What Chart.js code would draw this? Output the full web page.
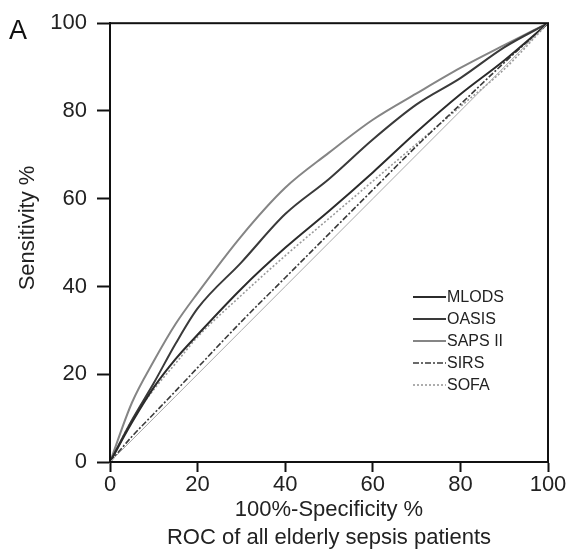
<!DOCTYPE html>
<html>
<head>
<meta charset="utf-8">
<script src="https://cdn.jsdelivr.net/npm/chart.js@4/dist/chart.umd.min.js"></script>
<style>
  html, body { margin: 0; padding: 0; background: #fff; }
  #wrap { width: 569px; height: 556px; }
</style>
</head>
<body>
<div id="wrap"><canvas id="roc" width="569" height="556"></canvas></div>
<script>
// 100% - specificity grid (x) shared by all curves
const fpr = [0, 5, 10, 15, 20, 30, 40, 50, 60, 70, 80, 90, 100];

// sensitivity
const mlods  = [0, 9, 17, 23.5, 29, 39.5, 48.8, 57.2, 66, 75.2, 83.8, 91.5, 100];
const oasis  = [0, 9.5, 18, 27, 35, 45.5, 56.5, 64.5, 73.5, 81.5, 87.5, 94.5, 100];
const saps   = [0, 13.5, 23, 31.5, 38.5, 51.5, 62.5, 70.5, 78, 84, 89.8, 95, 100];
const sirs   = [0, 5.8, 11, 16.2, 21.5, 32, 42, 52, 62, 72, 81.5, 91, 100];
const sofa   = [0, 9.5, 16.5, 22.5, 28.5, 38, 47, 55.5, 64, 72.5, 81, 89.5, 100];
const chance = [0, 5, 10, 15, 20, 30, 40, 50, 60, 70, 80, 90, 100];

const tickVals = [0, 20, 40, 60, 80, 100];
const FONT = "'Liberation Sans', Arial, sans-serif";

const pts = (ys) => ys.map((y, i) => ({ x: fpr[i], y: y }));

function series(label, ys, color, width, dash, inLegend) {
  return {
    label: label,
    data: pts(ys),
    borderColor: color,
    borderWidth: width,
    borderDash: dash,
    pointRadius: 0,
    fill: false,
    cubicInterpolationMode: "monotone",
    inLegend: inLegend
  };
}

// legend drawn inside the plot, like the original
const innerLegend = {
  id: "innerLegend",
  afterDatasetsDraw(chart) {
    const ctx = chart.ctx;
    const items = chart.data.datasets.filter(d => d.inLegend);
    ctx.save();
    ctx.font = "16px " + FONT;
    ctx.textBaseline = "middle";
    ctx.fillStyle = "#222";
    items.forEach((d, i) => {
      const y = 297 + i * 22;
      ctx.beginPath();
      ctx.strokeStyle = d.borderColor;
      ctx.lineWidth = d.borderWidth;
      ctx.setLineDash(d.borderDash || []);
      ctx.moveTo(413, y);
      ctx.lineTo(446, y);
      ctx.stroke();
      ctx.fillText(d.label, 447, y + 1);
    });
    ctx.restore();
  }
};

// box round the plot, the panel letter and the y title
const frame = {
  id: "frame",
  afterDraw(chart) {
    const a = chart.chartArea;
    const ctx = chart.ctx;
    ctx.save();
    ctx.strokeStyle = "#111";
    ctx.lineWidth = 2;
    ctx.setLineDash([]);
    ctx.strokeRect(a.left, a.top, a.right - a.left, a.bottom - a.top);
    ctx.fillStyle = "#111";
    ctx.font = "27px " + FONT;
    ctx.textBaseline = "alphabetic";
    ctx.fillText("A", 9, 39);

    ctx.fillStyle = "#222";
    ctx.font = "22px " + FONT;
    ctx.textAlign = "center";
    ctx.textBaseline = "middle";
    ctx.translate(28, 228);
    ctx.rotate(-Math.PI / 2);
    ctx.fillText("Sensitivity %", 0, 0);
    ctx.restore();
  }
};

new Chart(document.getElementById("roc"), {
  type: "line",
  data: {
    datasets: [
      series("chance", chance, "#a8a8a8", 1, [], false),
      series("MLODS", mlods, "#2b2b2b", 2, [], true),
      series("OASIS", oasis, "#3a3a3a", 2, [], true),
      series("SAPS II", saps, "#858585", 2, [], true),
      series("SIRS", sirs, "#3a3a3a", 1.6, [6, 2, 2, 2], true),
      series("SOFA", sofa, "#9a9a9a", 1.6, [2, 2], true)
    ]
  },
  options: {
    responsive: false,
    animation: false,
    layout: { padding: { top: 23, right: 21, left: 0, bottom: 0 } },
    plugins: { legend: { display: false }, tooltip: { enabled: false } },
    scales: {
      x: {
        type: "linear",
        min: 0,
        max: 100,
        afterBuildTicks: (s) => { s.ticks = tickVals.map(v => ({ value: v })); },
        afterFit: (s) => { s.height = 94; },
        grid: { drawOnChartArea: false, tickLength: 10, tickWidth: 2, tickColor: "#111" },
        border: { color: "#111", width: 2 },
        ticks: { color: "#222", padding: 0, font: { family: FONT, size: 22 } },
        title: {
          display: true,
          text: ["100%-Specificity %", "ROC of all elderly sepsis patients"],
          color: "#222",
          padding: { top: 0, bottom: 4 },
          font: { family: FONT, size: 22, lineHeight: 1.27 }
        }
      },
      y: {
        type: "linear",
        min: 0,
        max: 100,
        afterBuildTicks: (s) => { s.ticks = tickVals.map(v => ({ value: v })); },
        afterFit: (s) => { s.width = 110; },
        grid: { drawOnChartArea: false, tickLength: 13, tickWidth: 2, tickColor: "#111" },
        border: { color: "#111", width: 2 },
        ticks: { color: "#222", padding: 10, font: { family: FONT, size: 22 } },
        title: { display: false }
      }
    }
  },
  plugins: [innerLegend, frame]
});
</script>
</body>
</html>
